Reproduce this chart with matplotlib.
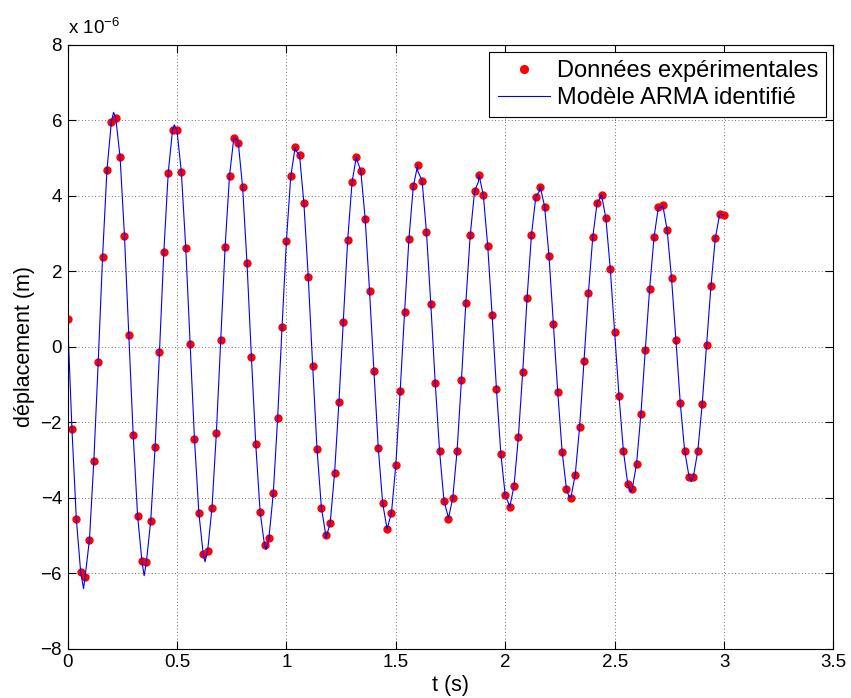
import numpy as np
import matplotlib
matplotlib.use('Agg')
import matplotlib.pyplot as plt
from matplotlib.ticker import FuncFormatter

plt.rcParams['font.family'] = ['Liberation Sans', 'DejaVu Sans']
plt.rcParams['mathtext.fontset'] = 'custom'
plt.rcParams['mathtext.rm'] = 'Liberation Sans'
plt.rcParams['axes.unicode_minus'] = True

# Measured data (sampled every 0.02 s), displacement in units of 1e-6 m
dt = 0.02
y_mes = [0.74, -2.18, -4.56, -5.98, -6.11, -5.11, -3.03, -0.41, 2.39, 4.68,
         5.95, 6.07, 5.02, 2.94, 0.32, -2.35, -4.48, -5.69, -5.71, -4.62,
         -2.66, -0.14, 2.52, 4.61, 5.75, 5.73, 4.63, 2.62, 0.06, -2.45,
         -4.41, -5.50, -5.41, -4.27, -2.28, 0.18, 2.65, 4.53, 5.54, 5.41,
         4.22, 2.21, -0.26, -2.59, -4.38, -5.26, -5.08, -3.89, -1.89, 0.51,
         2.80, 4.52, 5.28, 5.07, 3.80, 1.84, -0.50, -2.72, -4.27, -4.99,
         -4.68, -3.36, -1.47, 0.66, 2.82, 4.36, 5.04, 4.66, 3.39, 1.47,
         -0.65, -2.69, -4.15, -4.82, -4.41, -3.14, -1.17, 0.91, 2.86, 4.25,
         4.81, 4.40, 3.05, 1.12, -0.95, -2.77, -4.08, -4.56, -4.02, -2.76,
         -0.87, 1.16, 2.95, 4.12, 4.56, 4.01, 2.67, 0.84, -1.13, -2.84,
         -3.94, -4.26, -3.70, -2.40, -0.66, 1.30, 2.97, 3.98, 4.24, 3.71,
         2.41, 0.61, -1.20, -2.78, -3.78, -4.00, -3.39, -2.12, -0.38, 1.41,
         2.90, 3.82, 4.03, 3.40, 2.07, 0.40, -1.31, -2.76, -3.64, -3.78,
         -3.11, -1.79, -0.09, 1.54, 2.90, 3.70, 3.75, 3.09, 1.81, 0.18,
         -1.50, -2.76, -3.44, -3.44, -2.76, -1.53, 0.04, 1.60, 2.87, 3.51,
         3.49]
t_mes = np.arange(len(y_mes)) * dt

# Extrema of the identified ARMA model curve
t_ext = [0.073, 0.210, 0.350, 0.488, 0.628, 0.770, 0.907, 1.043, 1.181,
         1.323, 1.460, 1.600, 1.740, 1.878, 2.018, 2.155, 2.293, 2.430,
         2.573, 2.710, 2.850]
y_ext = [-6.41, 6.21, -6.07, 5.88, -5.70, 5.52, -5.37, 5.20, -5.06,
         4.94, -4.83, 4.66, -4.52, 4.38, -4.19, 4.11, -3.99, 3.90,
         -3.85, 3.68, -3.58]

# model curve = measured samples + model extrema, sorted in time
t_mod = np.concatenate([t_mes, t_ext])
y_mod = np.concatenate([y_mes, y_ext])
order = np.argsort(t_mod)
t_mod = t_mod[order]
y_mod = y_mod[order]

fig = plt.figure(figsize=(8.51, 6.98), dpi=100)
ax = fig.add_axes([0.0794, 0.0708, 0.900, 0.865])

ax.plot(t_mes, y_mes, 'o', color='red', markersize=6, markeredgewidth=0,
        label='Données expérimentales')
ax.plot(t_mod, y_mod, '-', color='blue', linewidth=0.8,
        label='Modèle ARMA identifié')

ax.set_xlim(0, 3.5)
ax.set_ylim(-8, 8)
ax.set_xticks(np.arange(0, 3.51, 0.5))
ax.set_yticks(np.arange(-8, 8.1, 2))
fmt = lambda v, p: ('%g' % v).replace('-', '\u2212')
ax.xaxis.set_major_formatter(FuncFormatter(fmt))
ax.yaxis.set_major_formatter(FuncFormatter(fmt))
ax.tick_params(direction='in', length=6, width=0.8, top=True, right=True,
               labelsize=13.5, pad=4)
for s in ax.spines.values():
    s.set_linewidth(0.8)
ax.grid(True, linestyle=(0, (1, 3)), color='0.25', linewidth=0.6)

ax.set_xlabel('t (s)', fontsize=15.5, labelpad=3)
ax.set_ylabel('déplacement (m)', fontsize=15.5, labelpad=4)
ax.text(0.0, 1.012, 'x 10$^{\\mathregular{\u22126}}$', transform=ax.transAxes,
        fontsize=13.5, ha='left', va='bottom')

leg = ax.legend(loc='upper right', fontsize=17, fancybox=False,
                framealpha=1, edgecolor='black', borderaxespad=0.3,
                handlelength=2.2, borderpad=0.35, labelspacing=0.2,
                handletextpad=0.3, markerscale=1.1)
leg.get_frame().set_linewidth(0.8)

fig.savefig('out.png', dpi=100)
